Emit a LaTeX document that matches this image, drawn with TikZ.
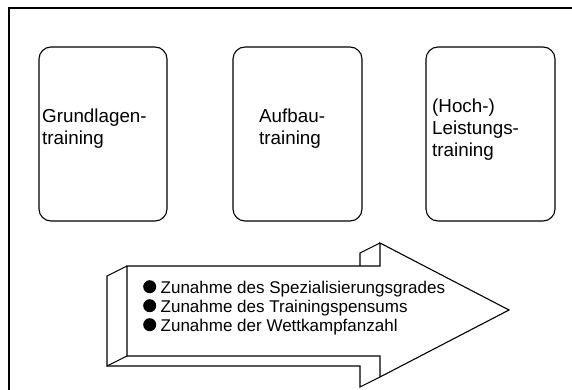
\documentclass[tikz,border=0pt]{standalone}
\usepackage{fontspec}
\setmainfont{Liberation Sans}
\newcommand\bul{\tikz[baseline=0pt]\fill (6.5pt,6.5pt) circle[radius=6.5pt];}
\begin{document}
\begin{tikzpicture}[x=1pt,y=-1pt]
\useasboundingbox (0,0) rectangle (572,390);
\tikzset{
  frameline/.style={line width=1.3pt},
  box/.style={draw, line width=1.1pt, rounded corners=12pt, minimum height=174pt, inner sep=0pt},
  boxtext/.style={anchor=north west, inner sep=0pt, align=left, font=\fontsize{18.8}{22}\selectfont},
  arrowline/.style={line width=1.1pt, line join=miter},
  listtext/.style={anchor=north west, inner sep=0pt, align=left, font=\fontsize{17}{19}\selectfont},
}
% frame (only top and left edges visible)
\draw[frameline] (9,390) -- (9,8) -- (572,8);
% three stage boxes
\node[box, minimum width=128pt] (b1) at (103,134) {};
\node[box, minimum width=129pt] (b2) at (297.5,134) {};
\node[box, minimum width=129pt] (b3) at (490.5,134) {};
\node[boxtext] (t1) at (42,106.6) {\strut Grundlagen-\\training};
\node[boxtext] (t2) at (259,106.6) {\strut Aufbau-\\training};
\node[boxtext] (t3) at (432,96.6) {\strut (Hoch-)\\Leistungs-\\training};
% 3D arrow
\draw[arrowline, fill=white] (127,266) -- (380,266) -- (380,243) -- (509,310) -- (380,377) -- (380,356) -- (127,356) -- cycle;
\draw[arrowline] (127,266) -- (107,276) -- (107,366) -- (127,356);
\draw[arrowline] (107,366) -- (360,366) -- (360,387) -- (380,377);
\draw[arrowline] (380,243) -- (360,253) -- (360,266);
\node[listtext] (list) at (143,279.7) {\strut\bul\hspace{4.5pt}Zunahme des Spezialisierungsgrades\\
\bul\hspace{4.5pt}Zunahme des Trainingspensums\\
\bul\hspace{4.5pt}Zunahme der Wettkampfanzahl};
\end{tikzpicture}
\end{document}
